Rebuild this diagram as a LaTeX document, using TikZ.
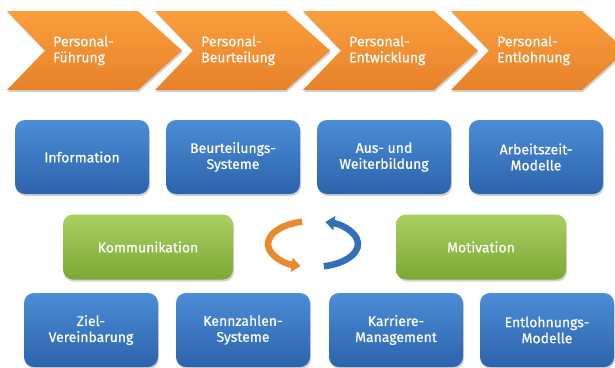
\documentclass[tikz,border=0pt]{standalone}
\usepackage{fontspec}
\setmainfont{Fira Sans}[BoldFont={Fira Sans},BoldFeatures={FakeBold=0.6}]
\usepackage{tikz}
\usetikzlibrary{positioning}
\usetikzlibrary{shadows}
\usetikzlibrary{arrows.meta}
\definecolor{orangetop}{HTML}{FA9E3C}
\definecolor{orangebot}{HTML}{E7822A}
\definecolor{bluetop}{HTML}{4B8DD6}
\definecolor{bluebot}{HTML}{2C63AC}
\definecolor{greentop}{HTML}{A8D062}
\definecolor{greenbot}{HTML}{7BA833}
\definecolor{cycorange}{HTML}{E98A2E}
\definecolor{cycblue}{HTML}{3470B8}
\tikzstyle{shade}=[drop shadow={opacity=0.35,shadow xshift=1pt,shadow yshift=-2pt}]
\tikzstyle{chevron}=[shade,draw=none,top color=orangetop,bottom color=orangebot]
\tikzstyle{label}=[text=white,align=left,anchor=west,inner sep=0,font=\fontsize{14}{16}\selectfont\bfseries]
\tikzstyle{box}=[shade,rounded corners=10,minimum width=134,minimum height=74,inner sep=2,
                 top color=bluetop,bottom color=bluebot,text=white,align=center,
                 font=\fontsize{14}{16}\selectfont\bfseries]
\tikzstyle{goal}=[box,minimum width=170,minimum height=65,top color=greentop,bottom color=greenbot]
\tikzstyle{cycle}=[line width=6.5,-{Triangle[length=9,width=14]}]

\begin{document}
\begin{tikzpicture}[x=1pt,y=-1pt]
  \useasboundingbox[fill=white] (0,0) rectangle (615,367);
  \def\T{11}    % chevron top
  \def\B{90}    % chevron bottom
  \def\M{50.5}  % chevron middle
  \def\L{131}   % chevron straight length
  \def\P{44}    % chevron point depth
  \def\N{38}    % chevron notch depth

  % PHASES
  \foreach \x/\name/\txt in {7/fuehrung/Personal-\\Führung,
                             155/beurteilung/Personal-\\Beurteilung,
                             303/entwicklung/Personal-\\Entwicklung,
                             451/entlohnung/Personal-\\Entlohnung}{
    \draw[chevron] (\x,\T) -- ++(\L,0) -- (\x+\L+\P,\M) -- (\x+\L,\B) -- (\x,\B) -- (\x+\N,\M) -- cycle;
    \node[label] (\name) at (\x+\N+8,\M) {\txt};
  }

  % TOOLS
  \node[box] (info)   at (82,157)  {Information};
  \node[box] (beursys) at (233,157) {Beurteilungs-\\Systeme};
  \node[box] (ausbild) at (384,157) {Aus- und\\Weiterbildung};
  \node[box] (azmod)  at (536,157) {Arbeitszeit-\\Modelle};

  \node[goal] (komm) at (148,247) {Kommunikation};
  \node[goal] (moti) at (481,247) {Motivation};

  \node[box] (ziel)    at (91,330)  {Ziel-\\Vereinbarung};
  \node[box] (kennsys) at (243,330) {Kennzahlen-\\Systeme};
  \node[box] (karr)    at (396,330) {Karriere-\\Management};
  \node[box] (entmod)  at (547,330) {Entlohnungs-\\Modelle};

  % CYCLE
  \coordinate (cyc) at (313,244);
  \draw[cycle,cycorange] (cyc) ++(256:45 and 23) arc[start angle=256,end angle=106,x radius=45,y radius=23];
  \draw[cycle,cycblue] (cyc) ++(76:45 and 23) arc[start angle=76,end angle=-74,x radius=45,y radius=23];
\end{tikzpicture}
\end{document}
